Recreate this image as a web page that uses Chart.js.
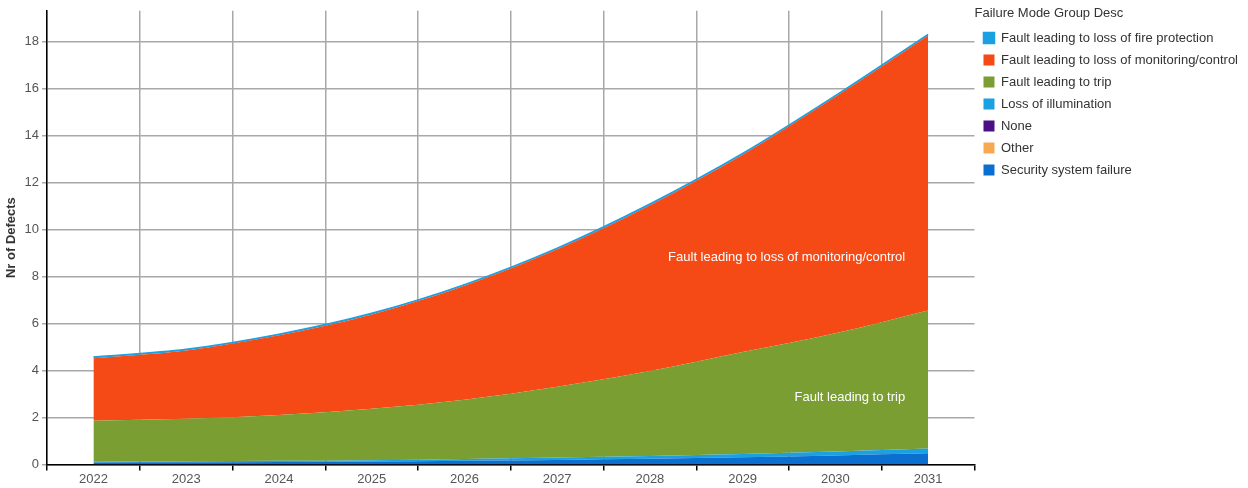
<!DOCTYPE html>
<html>
<head>
<meta charset="utf-8">
<script src="https://cdn.jsdelivr.net/npm/chart.js@4/dist/chart.umd.min.js"></script>
<style>
    html, body { margin: 0; padding: 0; background: #fff; }
    #wrap { width: 1248px; height: 488px; }
</style>
</head>
<body>
<div id="wrap"><canvas id="mainChart" width="1248" height="488"></canvas></div>
<script>
"use strict";

const ctxMainChart = document.getElementById("mainChart");

// dados
const anos = ["2022", "2023", "2024", "2025", "2026", "2027", "2028", "2029", "2030", "2031"];
const seguranca = [0.08, 0.09, 0.1, 0.12, 0.15, 0.19, 0.24, 0.3, 0.38, 0.47];
const outros = [0, 0, 0, 0, 0, 0, 0, 0, 0, 0];
const nenhum = [0, 0, 0, 0, 0, 0, 0, 0, 0, 0];
const iluminacao = [0.03, 0.04, 0.05, 0.06, 0.08, 0.1, 0.12, 0.14, 0.17, 0.21];
const trip = [1.75, 1.81, 1.95, 2.19, 2.52, 3.01, 3.61, 4.34, 5.03, 5.87];
const monitoramento = [2.66, 2.91, 3.39, 4.01, 4.85, 5.85, 7.06, 8.4, 10.06, 11.7];
const incendio = [0.05, 0.05, 0.05, 0.05, 0.05, 0.05, 0.05, 0.05, 0.05, 0.05];

// rotulos dentro das areas: texto e altura (valor no eixo y)
const rotulosTexto = ["Fault leading to loss of monitoring/control", "Fault leading to trip"];
const rotulosValor = [8.8, 2.87];

const fonte = "'Liberation Sans', Arial, sans-serif";
const corGrade = "#a8a8a8";

function serie(label, data, cor, fill) {
    return {
        label: label,
        data: data,
        backgroundColor: cor,
        borderColor: cor,
        borderWidth: 0,
        pointRadius: 0,
        fill: fill,
        cubicInterpolationMode: "monotone",
    };
}

const rotulosPlugin = {
    id: "rotulos",
    afterDatasetsDraw(chart) {
        const { ctx, scales } = chart;
        const xFim = scales.x.getPixelForValue(anos.length - 1) - 23;
        ctx.save();
        ctx.font = "13px " + fonte;
        ctx.fillStyle = "#ffffff";
        ctx.textAlign = "right";
        ctx.textBaseline = "middle";
        rotulosTexto.forEach((txt, i) => {
            ctx.fillText(txt, xFim, scales.y.getPixelForValue(rotulosValor[i]));
        });
        ctx.restore();
    },
};

const bordaIncendio = serie("Fault leading to loss of fire protection", incendio, "#1ba1e2", "-1");
bordaIncendio.borderWidth = 1.5;

new Chart(ctxMainChart, {
    type: "line",
    data: {
        labels: anos,
        datasets: [
            serie("Security system failure", seguranca, "#0a6fcf", "origin"),
            serie("Other", outros, "#f9a852", "-1"),
            serie("None", nenhum, "#4b1086", "-1"),
            serie("Loss of illumination", iluminacao, "#1ba1e2", "-1"),
            serie("Fault leading to trip", trip, "#7a9e31", "-1"),
            serie("Fault leading to loss of monitoring/control", monitoramento, "#f64a16", "-1"),
            bordaIncendio,
        ],
    },
    plugins: [rotulosPlugin],
    options: {
        responsive: false,
        animation: false,
        layout: {
            padding: { top: 0, left: 4, right: 0, bottom: 0 },
        },
        plugins: {
            tooltip: { enabled: false },
            legend: {
                position: "right",
                align: "start",
                reverse: true,
                title: {
                    display: true,
                    text: "Failure Mode Group Desc",
                    position: "start",
                    color: "#333",
                    font: { family: fonte, size: 13 },
                    padding: { top: 7, bottom: 0 },
                },
                labels: {
                    boxWidth: 11,
                    boxHeight: 11,
                    padding: 9,
                    color: "#333",
                    font: { family: fonte, size: 13 },
                },
            },
        },
        scales: {
            x: {
                offset: true,
                border: { color: "#000", width: 1.5 },
                grid: {
                    offset: true,
                    // sem linha vertical na borda direita
                    color: (c) => (c.tick ? corGrade : "rgba(0,0,0,0)"),
                    lineWidth: 1.5,
                    tickColor: "#000",
                    tickLength: 6,
                },
                ticks: {
                    color: "#555",
                    font: { family: fonte, size: 13 },
                    padding: 1,
                },
            },
            y: {
                stacked: true,
                min: 0,
                max: 19.3,
                afterBuildTicks: (scale) => {
                    scale.ticks = scale.ticks.filter((t) => t.value % 2 === 0);
                },
                border: { color: "#000", width: 1.5 },
                grid: {
                    color: corGrade,
                    lineWidth: 1.5,
                    tickColor: corGrade,
                    tickLength: 5,
                },
                ticks: {
                    stepSize: 2,
                    color: "#555",
                    font: { family: fonte, size: 13 },
                    padding: 3,
                },
                title: {
                    display: true,
                    text: "Nr of Defects",
                    color: "#333",
                    font: { family: fonte, size: 13, weight: "bold" },
                    padding: { top: 0, bottom: 2 },
                },
            },
        },
    },
});
</script>
</body>
</html>
